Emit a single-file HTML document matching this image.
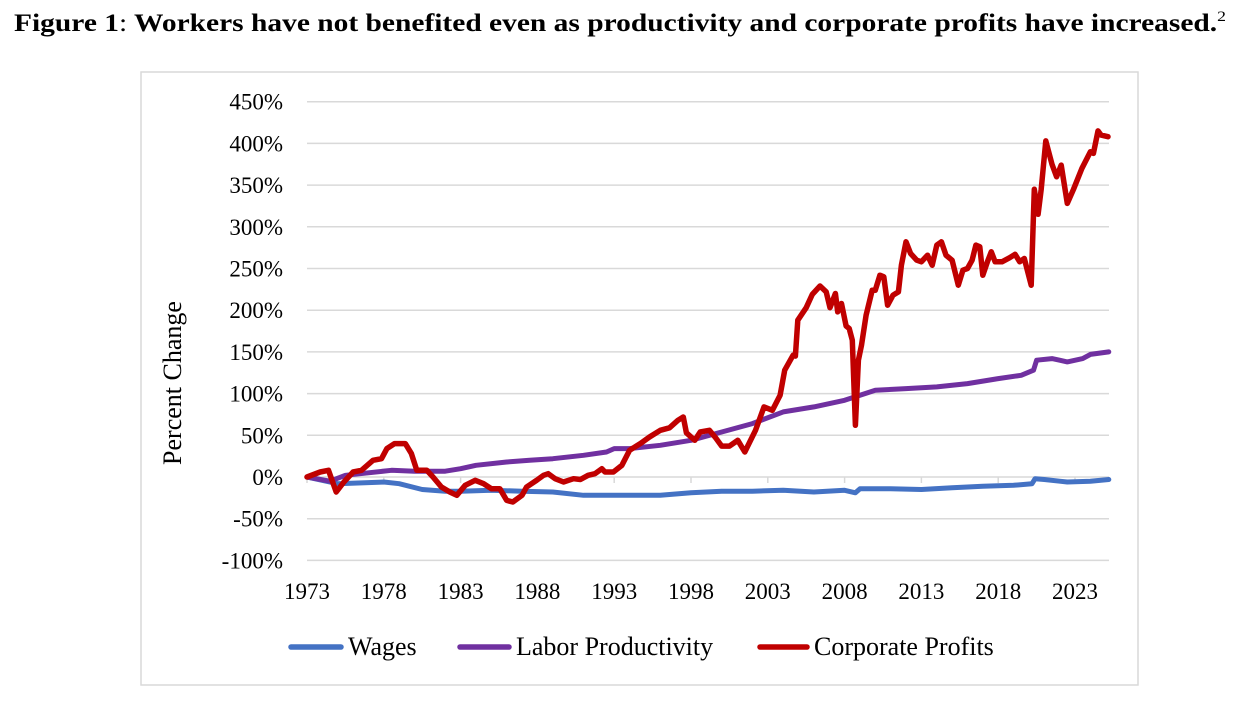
<!DOCTYPE html>
<html><head><meta charset="utf-8"><style>
html,body{margin:0;padding:0;background:#fff;}
svg{display:block;font-family:"Liberation Serif",serif;}
</style></head><body>
<svg id="chart" width="1252" height="718" viewBox="0 0 1252 718">
<text x="14" y="31" font-size="25" font-weight="bold" textLength="1212" lengthAdjust="spacingAndGlyphs">Figure 1<tspan font-weight="normal">:</tspan> Workers have not benefited even as productivity and corporate profits have increased.<tspan font-size="15" font-weight="normal" dy="-10">2</tspan></text>
<rect x="141" y="72" width="997" height="613" fill="none" stroke="#d9d9d9" stroke-width="1.5"/>
<g id="grid"></g><g id="yaxis"></g><g id="xaxis"></g><g id="series"></g>
<text transform="translate(181,383) rotate(-90)" text-anchor="middle" font-size="26">Percent Change</text>
<g>
<g><line x1="291" y1="647" x2="341" y2="647" stroke="#4472C4" stroke-width="5.5" stroke-linecap="round"/><text x="348" y="655" font-size="26">Wages</text></g>
<g><line x1="460" y1="647" x2="509" y2="647" stroke="#7030A0" stroke-width="5.5" stroke-linecap="round"/><text x="516" y="655" font-size="26">Labor Productivity</text></g>
<g><line x1="760" y1="647" x2="807" y2="647" stroke="#C00000" stroke-width="5.5" stroke-linecap="round"/><text x="814" y="655" font-size="26">Corporate Profits</text></g>
</g>
</svg>
<script>
const yTicks=[450,400,350,300,250,200,150,100,50,0,-50,-100];
const xTickYears=[1973,1978,1983,1988,1993,1998,2003,2008,2013,2018,2023];
const profitYears=[1973.0,1973.85,1974.4,1974.9,1975.4,1976.0,1976.55,1977.3,1977.85,1978.2,1978.7,1979.4,1979.8,1980.15,1980.8,1981.2,1981.75,1982.3,1982.75,1983.3,1983.95,1984.5,1985.0,1985.55,1986.0,1986.4,1987.0,1987.3,1987.95,1988.4,1988.7,1989.15,1989.7,1990.35,1990.8,1991.3,1991.75,1992.2,1992.4,1992.95,1993.5,1994.0,1994.7,1995.3,1996.0,1996.6,1997.15,1997.5,1997.7,1998.25,1998.6,1999.2,1999.6,2000.0,2000.5,2001.05,2001.5,2002.2,2002.75,2003.3,2003.8,2004.1,2004.65,2004.8,2004.95,2005.5,2005.9,2006.4,2006.8,2007.05,2007.4,2007.55,2007.8,2008.1,2008.3,2008.5,2008.7,2008.9,2009.1,2009.4,2009.8,2010.0,2010.3,2010.55,2010.8,2011.15,2011.5,2011.7,2012.0,2012.3,2012.7,2013.0,2013.4,2013.7,2014.0,2014.3,2014.6,2015.0,2015.4,2015.7,2016.0,2016.3,2016.55,2016.8,2017.0,2017.3,2017.55,2017.8,2018.25,2018.75,2019.1,2019.4,2019.7,2020.15,2020.35,2020.6,2020.8,2021.1,2021.5,2021.8,2022.1,2022.5,2022.9,2023.45,2024.0,2024.2,2024.5,2024.7,2025.15];
const profitValues=[0,6,8,-18,-6,6,8,20,22,34,40,40,28,8,8,0,-12,-18,-22,-10,-4,-8,-14,-14,-28,-30,-22,-12,-4,2,4,-2,-6,-2,-3,2,4,10,6,6,14,32,40,48,56,59,68,72,53,44,54,56,47,37,37,44,30,56,84,80,98,128,146,145,188,203,219,229,222,203,220,198,208,181,178,164,62,140,158,194,224,224,242,240,206,218,222,254,282,268,260,258,266,254,278,282,266,260,230,248,250,260,278,276,242,258,270,258,258,263,267,258,262,230,345,315,345,403,375,360,374,328,345,370,390,388,415,410,408];
const prodYears=[1973,1974.5,1975.5,1977,1978.5,1980,1982,1983,1984,1986,1987.5,1989,1991,1992.5,1993,1994,1996,1998,2000,2002,2004,2006,2008,2009,2010,2012,2014,2016,2018,2019.5,2020.3,2020.5,2021.5,2022,2022.5,2023.5,2024,2025.2];
const prodValues=[0,-5,2,5,8,7,7,10,14,18,20,22,26,30,34,34,38,44,54,64,78,84,92,98,104,106,108,112,118,122,128,140,142,140,138,142,147,150];
const wageYears=[1973,1975,1978,1979,1980.5,1982,1983,1985,1987,1989,1991,1994,1996,1998,2000,2002,2004,2006,2008,2008.7,2009,2011,2013,2015,2017,2019,2020.2,2020.4,2021,2022,2022.5,2024,2025.2];
const wageValues=[0,-8,-6,-8,-15,-17,-17,-16,-17,-18,-22,-22,-22,-19,-17,-17,-16,-18,-16,-19,-14,-14,-15,-13,-11,-10,-8,-2,-3,-5,-6,-5,-3];

const X0=307,PX=15.36,Y0=477,PY=41.7/50,XR=1109;
function xs(yr){return X0+(yr-1973)*PX;}
function ys(v){return Y0-v*PY;}
const NS="http://www.w3.org/2000/svg";
function mk(tag,attrs,parent){const e=document.createElementNS(NS,tag);for(const k in attrs)e.setAttribute(k,attrs[k]);parent.appendChild(e);return e;}
const grid=document.getElementById('grid'),yax=document.getElementById('yaxis'),xax=document.getElementById('xaxis'),ser=document.getElementById('series');
yTicks.forEach(v=>{
  const l=mk('line',{x1:X0,x2:XR,y1:ys(v),y2:ys(v),stroke:'#d9d9d9','stroke-width':1.5},grid);
  
  
  const t=mk('text',{x:283,y:ys(v)+8,'text-anchor':'end','font-size':23},yax);
  t.textContent=v+'%';
  
  
});
xTickYears.forEach(yr=>{
  const l=mk('line',{x1:xs(yr),x2:xs(yr),y1:Y0,y2:Y0+6,stroke:'#d9d9d9','stroke-width':1.5},xax);
  
  
  const t=mk('text',{x:xs(yr),y:599,'text-anchor':'middle','font-size':23},xax);
  t.textContent=yr;
  
  
});
function line(yrs,vals,color,w,name){
  const d=yrs.map((y,i)=>(i?'L':'M')+xs(y).toFixed(1)+','+ys(vals[i]).toFixed(1)).join('');
  const p=mk('path',{d:d,fill:'none',stroke:color,'stroke-width':w,'stroke-linejoin':'round','stroke-linecap':'round'},ser);
  
  
}
line(wageYears,wageValues,'#4472C4',5,'wages-line');
line(prodYears,prodValues,'#7030A0',5,'labor-productivity-line');
line(profitYears,profitValues,'#C00000',5.5,'corporate-profits-line');
</script>
</body></html>
